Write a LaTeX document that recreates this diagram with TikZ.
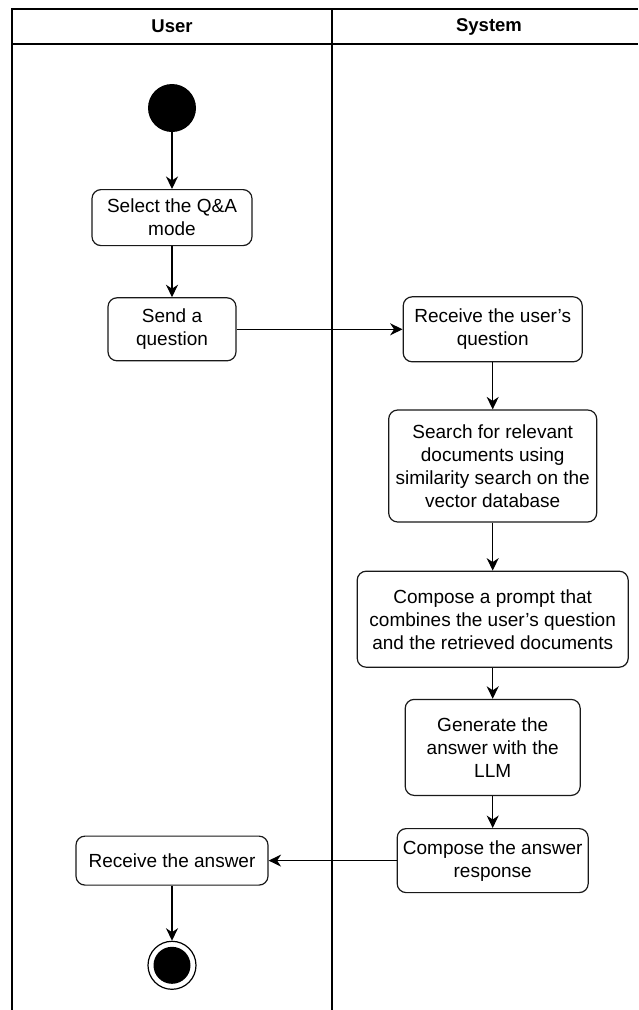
\documentclass[tikz,border=0pt]{standalone}
\usepackage{fontspec}
\setmainfont{Liberation Sans}
\usetikzlibrary{shapes,arrows.meta,positioning}
\tikzstyle{lane} = [line width=1.3pt, draw=black]
\tikzstyle{head} = [font=\fontsize{18.5}{22}\selectfont\bfseries]
\tikzstyle{activity} = [rectangle, rounded corners=9pt, align=center, inner sep=2pt, draw=black!90, line width=1.2pt, font=\fontsize{19}{23}\selectfont]
\tikzstyle{initial} = [circle, fill=black, minimum size=48pt, inner sep=0pt, outer sep=0pt]
\tikzstyle{final} = [circle, draw=black, line width=1.2pt, fill=white, minimum size=48pt, inner sep=0pt, path picture={\fill[black] (path picture bounding box.center) circle (18.5pt);}]
\tikzstyle{arrow} = [line width=1.2pt, -{Stealth[length=12.5pt,width=12pt,inset=4pt]}]

\begin{document}
\begin{tikzpicture}[x=1pt,y=1pt]
	\useasboundingbox (0,0) rectangle (638,-1010);
	\draw[lane] (12,-1010) -- (12,-9) -- (638,-9);
	\draw[lane] (12,-44) -- (638,-44);
	\draw[lane] (332,-9) -- (332,-1010);
	\node[head] (user) at (172,-26.5) {User};
	\node[head] (system) at (489,-26.5) {System};

	\node[initial] (start) at (172,-108) {};
	\node[activity, minimum width=160pt, minimum height=56pt, below=57pt of start] (select) {Select the Q\&A\\mode};
	\node[activity, minimum width=128pt, minimum height=63pt, below=51pt of select] (send) {Send a\\question};
	\node[activity, minimum width=179pt, minimum height=65pt, right=166pt of send] (recq) {Receive the user's\\question};
	\node[activity, minimum width=208pt, minimum height=112pt, below=47pt of recq] (search) {Search for relevant\\documents using\\similarity search on the\\vector database};
	\node[activity, minimum width=271pt, minimum height=96pt, below=48pt of search] (prompt) {Compose a prompt that\\combines the user's question\\and the retrieved documents};
	\node[activity, minimum width=175pt, minimum height=96pt, below=31pt of prompt] (generate) {Generate the\\answer with the\\LLM};
	\node[activity, minimum width=191pt, minimum height=64pt, below=32pt of generate] (response) {Compose the answer\\response};
	\node[activity, minimum width=192pt, minimum height=49pt, left=128pt of response] (recans) {Receive the answer};
	\node[final, below=55pt of recans] (stop) {};

	\draw[arrow] (start) -- (select);
	\draw[arrow] (select) -- (send);
	\draw[arrow] (send) -- (recq);
	\draw[arrow] (recq) -- (search);
	\draw[arrow] (search) -- (prompt);
	\draw[arrow] (prompt) -- (generate);
	\draw[arrow] (generate) -- (response);
	\draw[arrow] (response) -- (recans);
	\draw[arrow] (recans) -- (stop);
\end{tikzpicture}
\end{document}
